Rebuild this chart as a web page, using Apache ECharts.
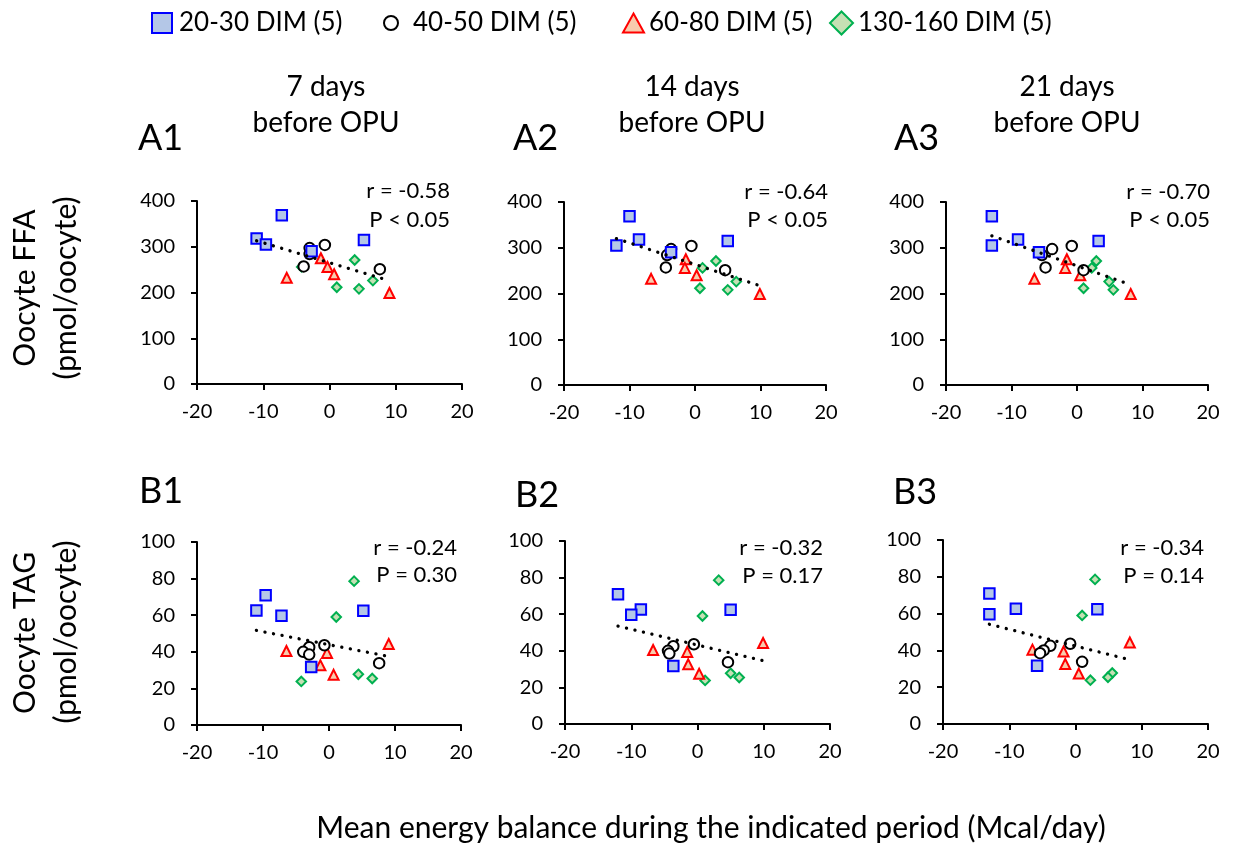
<!DOCTYPE html>
<html>
<head>
<meta charset="utf-8">
<script src="https://cdn.jsdelivr.net/npm/echarts@6/dist/echarts.min.js"></script>
<style>
html,body{margin:0;padding:0;background:#fff;}
#chart{width:1238px;height:849px;}
</style>
</head>
<body>
<div id="chart"></div>
<script>
// ---- data ----
const groupNames = ['20-30 DIM (5)', '40-50 DIM (5)', '60-80 DIM (5)', '130-160 DIM (5)'];

// 20-30 DIM
const ffa_2030 = [318, 305, 369, 290, 315];
const tag_2030 = [62.6, 70.9, 59.7, 31.7, 62.4];
const eb7_2030 = [-11.0, -9.6, -7.2, -2.7, 5.2];
const eb14_2030 = [-8.55, -12.0, -10.0, -3.65, 5.0];
const eb21_2030 = [-9.0, -13.0, -13.0, -5.8, 3.3];

// 40-50 DIM
const ffa_4050 = [304, 251, 297, 257, 284];
const tag_4050 = [43.6, 33.8, 42.5, 40.0, 38.5];
const eb7_4050 = [-0.7, 7.6, -3.0, -3.9, -3.0];
const eb14_4050 = [-0.55, 4.6, -3.65, -4.45, -4.25];
const eb21_4050 = [-0.8, 1.0, -3.8, -4.8, -5.35];

// 60-80 DIM
const ffa_6080 = [232, 275, 256, 240, 199];
const tag_6080 = [40.4, 32.6, 39.4, 27.4, 44.3];
const eb7_6080 = [-6.45, -1.3, -0.3, 0.7, 9.05];
const eb14_6080 = [-6.7, -1.4, -1.55, 0.25, 9.9];
const eb21_6080 = [-6.5, -1.55, -1.8, 0.5, 8.2];

// 130-160 DIM
const ffa_130160 = [256, 211.5, 271, 208, 226];
const tag_130160 = [23.8, 59, 78.6, 27.7, 25.4];
const eb7_130160 = [-4.2, 1.1, 3.8, 4.45, 6.55];
const eb14_130160 = [1.15, 0.75, 3.2, 5.0, 6.3];
const eb21_130160 = [2.25, 1.0, 2.95, 5.55, 4.9];

// trend lines (end points)
const trendA1 = [[-11, 313], [9, 226]];
const trendA2 = [[-12, 320], [9.9, 217]];
const trendA3 = [[-13, 326], [8, 220]];
const trendB1 = [[-11, 51.7], [9, 37.5]];
const trendB2 = [[-12, 53.5], [9.9, 34.6]];
const trendB3 = [[-13, 54.2], [8, 35.1]];

const statR = ['r = -0.58', 'r = -0.64', 'r = -0.70', 'r = -0.24', 'r = -0.32', 'r = -0.34'];
const statP = ['P < 0.05', 'P < 0.05', 'P < 0.05', 'P = 0.30', 'P = 0.17', 'P = 0.14'];
const panelLabels = ['A1', 'A2', 'A3', 'B1', 'B2', 'B3'];
const periodTitles = ['7 days', '14 days', '21 days'];
const xTicks = { min: -20, max: 20, interval: 10 };
const ffaTicks = { min: 0, max: 400, interval: 100 };
const tagTicks = { min: 0, max: 100, interval: 20 };

// ---- styles ----
const F = 'Lato, "Open Sans", sans-serif';
const styles = [
  { symbol: 'rect', size: 10.5, color: '#B4C7E7', border: '#0000FF' },
  { symbol: 'circle', size: 10.5, color: '#FFFFFF', border: '#000000' },
  { symbol: 'triangle', size: 10, color: '#F8CBAD', border: '#FF0000' },
  { symbol: 'diamond', size: 9.5, color: '#C5E0B4', border: '#00B050' }
];
const drawOrder = [3, 2, 1, 0];

const ebByPeriod = [
  [eb7_2030, eb7_4050, eb7_6080, eb7_130160],
  [eb14_2030, eb14_4050, eb14_6080, eb14_130160],
  [eb21_2030, eb21_4050, eb21_6080, eb21_130160]
];
const ffaByGroup = [ffa_2030, ffa_4050, ffa_6080, ffa_130160];
const tagByGroup = [tag_2030, tag_4050, tag_6080, tag_130160];
const trends = [trendA1, trendA2, trendA3, trendB1, trendB2, trendB3];

const grids = [
  { left: 197, top: 201, width: 265, height: 183 },
  { left: 564, top: 202, width: 262, height: 183 },
  { left: 946, top: 202, width: 262, height: 183 },
  { left: 197, top: 542, width: 264, height: 183 },
  { left: 565, top: 541, width: 265, height: 183 },
  { left: 943, top: 540, width: 265, height: 184 }
];

const axisLine = { show: true, onZero: false, lineStyle: { color: '#000', width: 2 } };
const axisTick = { show: true, length: 6, lineStyle: { color: '#000', width: 2 } };

const xAxes = grids.map((g, i) => ({
  gridIndex: i, type: 'value', min: xTicks.min, max: xTicks.max, interval: xTicks.interval,
  axisLine, axisTick, splitLine: { show: false },
  axisLabel: { color: '#000', fontSize: 20, fontFamily: F, margin: 18 }
}));
const yAxes = grids.map((g, i) => {
  const t = i < 3 ? ffaTicks : tagTicks;
  return {
    gridIndex: i, type: 'value', min: t.min, max: t.max, interval: t.interval,
    axisLine, axisTick, splitLine: { show: false },
    axisLabel: { color: '#000', fontSize: 20, fontFamily: F, margin: 22 }
  };
});

const series = [];
for (let p = 0; p < 6; p++) {
  const period = p % 3;
  const isA = p < 3;
  drawOrder.forEach(gi => {
    const xs = ebByPeriod[period][gi];
    const ys = isA ? ffaByGroup[gi] : tagByGroup[gi];
    const st = styles[gi];
    series.push({
      name: groupNames[gi], type: 'scatter', xAxisIndex: p, yAxisIndex: p,
      symbol: st.symbol, symbolSize: st.size,
      itemStyle: { color: st.color, borderColor: st.border, borderWidth: 2, opacity: 1 },
      emphasis: { disabled: true },
      data: xs.map((x, k) => [x, ys[k]]), z: 2
    });
  });
  series.push({
    name: 'trend', type: 'line', xAxisIndex: p, yAxisIndex: p, symbol: 'none', silent: true,
    lineStyle: { color: '#000', width: 3.3, type: [0.1, 8.6], cap: 'round' },
    data: trends[p], z: 5
  });
}

// legends
const legendPos = [
  { left: 151, w: 20, h: 20, pad: 2 },
  { left: 383, w: 14, h: 14, pad: 10 },
  { left: 622, w: 21, h: 19, pad: 0 },
  { left: 829, w: 23, h: 23, pad: 0 }
];
const legends = groupNames.map((n, gi) => ({
  left: legendPos[gi].left, top: 8, orient: 'horizontal', padding: 0,
  itemWidth: legendPos[gi].w, itemHeight: legendPos[gi].h,
  textStyle: { color: '#000', fontSize: 26, fontFamily: F, lineHeight: 30, padding: [0, 0, 0, legendPos[gi].pad] },
  data: [{ name: n, icon: styles[gi].symbol,
    itemStyle: { color: styles[gi].color, borderColor: styles[gi].border, borderWidth: 2 } }]
}));

// text elements
const txt = (text, x, y, size, align, extra) => Object.assign({
  type: 'text', x, y, silent: true,
  style: { text, fill: '#000', font: `${size}px ${F}`, textAlign: align || 'center', textVerticalAlign: 'middle' }
}, extra || {});

const titleX = [326, 692, 1067];
const labelPos = [[138, 138], [513, 138], [894, 138], [139, 491], [515, 495], [893, 492]];
const statX = [450, 828, 1210, 457, 823, 1204];
const statY = [[191, 220], [192, 220], [192, 220], [548, 575], [548, 576], [548, 576]];

const elements = [];
periodTitles.forEach((t, i) => {
  elements.push(txt(t, titleX[i], 87, 28));
  elements.push(txt('before OPU', titleX[i], 123, 28));
});
panelLabels.forEach((t, i) => elements.push(txt(t, labelPos[i][0], labelPos[i][1], 36, 'left')));
statR.forEach((t, i) => {
  elements.push(txt(t, statX[i], statY[i][0], 22, 'right'));
  elements.push(txt(statP[i], statX[i], statY[i][1], 22, 'right'));
});
elements.push(txt('Oocyte FFA', 25, 288, 30, 'center', { rotation: Math.PI / 2 }));
elements.push(txt('(pmol/oocyte)', 66, 288, 30, 'center', { rotation: Math.PI / 2 }));
elements.push(txt('Oocyte TAG', 25, 633, 30, 'center', { rotation: Math.PI / 2 }));
elements.push(txt('(pmol/oocyte)', 66, 632, 30, 'center', { rotation: Math.PI / 2 }));
elements.push(txt('Mean energy balance during the indicated period (Mcal/day)', 711, 828, 30));

const chart = echarts.init(document.getElementById('chart'), null, { renderer: 'canvas' });
chart.setOption({
  backgroundColor: '#fff',
  animation: false,
  legend: legends,
  grid: grids,
  xAxis: xAxes,
  yAxis: yAxes,
  series,
  graphic: { elements }
});
</script>
</body>
</html>
